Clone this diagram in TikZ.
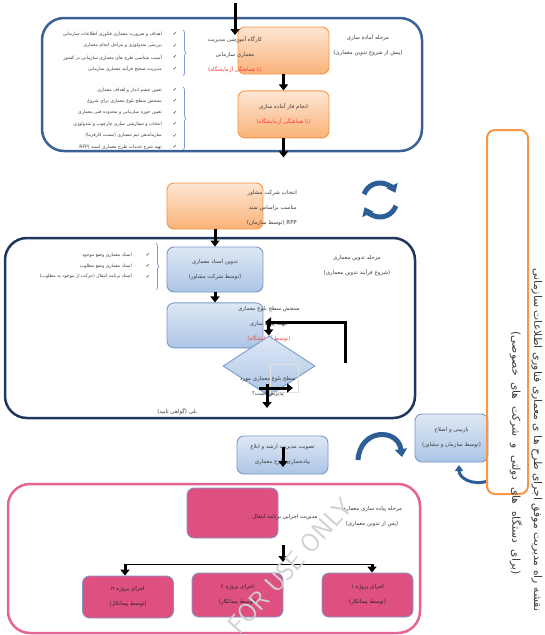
\documentclass[tikz,border=0pt]{standalone}
\usepackage{fontspec}
\usetikzlibrary{positioning,arrows.meta,shapes.geometric,decorations.pathreplacing}
\newfontfamily\fa[Script=Arabic]{DejaVu Sans}
\TeXXeTstate=1
\newcommand{\rl}[1]{\beginR #1\endR}
\newcommand{\redrl}[1]{\textcolor{labelred}{\beginR #1\endR}}

\definecolor{frameblue}{RGB}{58,96,150}
\definecolor{framenavy}{RGB}{31,56,96}
\definecolor{orangeline}{RGB}{247,150,70}
\definecolor{orangetop}{RGB}{253,230,212}
\definecolor{orangebot}{RGB}{250,178,120}
\definecolor{blueline}{RGB}{120,155,205}
\definecolor{bluetop}{RGB}{222,232,245}
\definecolor{bluebot}{RGB}{172,197,230}
\definecolor{pinkfill}{RGB}{222,80,128}
\definecolor{pinkframe}{RGB}{228,100,150}
\definecolor{labelred}{RGB}{255,60,60}
\definecolor{txtgray}{RGB}{60,60,60}
\definecolor{cyclblue}{RGB}{46,94,150}

\tikzset{
  orangebox/.style={draw=orangeline, line width=0.9pt, rounded corners=7pt,
    top color=orangetop, bottom color=orangebot,
    minimum width=91pt, minimum height=47pt, inner sep=0pt},
  bluebox/.style={draw=blueline, line width=0.9pt, rounded corners=7pt,
    top color=bluetop, bottom color=bluebot,
    minimum width=96pt, minimum height=45pt, inner sep=0pt},
  pinkbox/.style={draw=blueline, line width=0.8pt, fill=pinkfill, rounded corners=7pt,
    minimum width=91pt, minimum height=44pt, inner sep=0pt, text=black!85},
  fatxt/.style={font=\fa\fontsize{5.5}{15}\selectfont, text=txtgray, align=center, inner sep=0pt},
  itemtxt/.style={font=\fa\fontsize{4.6}{5}\selectfont, text=txtgray, anchor=east, inner sep=0pt},
  checkmk/.style={font=\fa\fontsize{5}{5}\selectfont, inner sep=0pt},
  sidetxt/.style={font=\fa\fontsize{10.8}{12}\selectfont, rotate=-90, text=txtgray, inner sep=0pt},
  grpbrace/.style={draw=blueline, line width=0.7pt, decorate, decoration={brace, amplitude=3pt}},
  bigarrow/.style={line width=3pt, -{Triangle[width=9pt,length=6pt]}},
  stageframe/.style={line width=2.5pt, rounded corners=22pt},
  cyclearrow/.style={draw=cyclblue, line width=5pt, -{Triangle[width=12pt,length=8pt]}},
}

\begin{document}
\begin{tikzpicture}[x=1pt, y=-1pt]
  \fill[white] (0,0) rectangle (545,635);
  \useasboundingbox (0,0) rectangle (545,635);

  %stage 1: preparation (before the architecture work)
  \draw[stageframe, draw=frameblue] (42,18) rectangle (422,151);
  \node[orangebox] (workshop) at (283.5,50.5) {};
  \node[fatxt] (workshoptxt) at (235,55) {\rl{کارگاه آموزشی مدیریت}\\\rl{معماری سازمانی}\\\redrl{(با هماهنگی آزمایشگاه)}};
  \node[orangebox, fatxt, below=16pt of workshop] (prepphase) {\rl{انجام فاز آماده سازی}\\\redrl{(با هماهنگی آزمایشگاه)}};
  \node[fatxt] (prepstage) at (368,45) {\rl{مرحله آماده سازی}\\\rl{(پیش از شروع تدوین معماری)}};
  \coordinate (entry) at (235,3);
  \coordinate (entryend) at (235,35);
  \draw[bigarrow] (entry) -- (entryend);
  \draw[bigarrow] (workshop) -- (prepphase);
  \coordinate[below=19pt of prepphase] (prepexit);
  \draw[bigarrow] (prepphase) -- (prepexit);

  %workshop topics
  \foreach \txt [count=\i] in {{اهداف و ضرورت معماری فناوری اطلاعات سازمانی},
      {بررسی متدولوژی و مراحل انجام معماری},
      {آسیب شناسی طرح های معماری سازمانی در کشور},
      {مدیریت صحیح فرآیند معماری سازمانی}}{
    \node[itemtxt] (aim-\i) at (162,22.3+11.7*\i) {\rl{\txt}};
    \node[checkmk] (aimchk-\i) at (175,22.3+11.7*\i) {✓};
  }
  \draw[grpbrace] (183,30) -- (183,76);
  %preparation tasks
  \foreach \txt [count=\i] in {{تعیین چشم انداز و اهداف معماری},
      {سنجش سطح بلوغ معماری برای شروع},
      {تعیین حوزه سازمانی و محدوده فنی معماری},
      {انتخاب و سفارشی سازی چارچوب و متدولوژی},
      {سازماندهی تیم معماری (سمت کارفرما)},
      {تهیه شرح خدمات طرح معماری (سند RFP)}}{
    \node[itemtxt] (task-\i) at (162,78.6+11.4*\i) {\rl{\txt}};
    \node[checkmk] (taskchk-\i) at (175,78.6+11.4*\i) {✓};
  }
  \draw[grpbrace] (183,87) -- (183,150);

  %choosing the consultant
  \node[orangebox, minimum width=96pt, minimum height=46pt] (consult) at (215,206) {};
  \node[fatxt, align=right, anchor=east] (consulttxt) at (297,208) {\rl{انتخاب شرکت مشاور}\\\rl{مناسب براساس سند}\\\rl{RFP (توسط سازمان)}};
  \draw[cyclearrow] (380,200) ++(200:17) arc (200:335:17);
  \draw[cyclearrow] (380,200) ++(20:17) arc (20:155:17);

  %stage 2: writing the architecture
  \draw[stageframe, draw=framenavy] (5,238) rectangle (415,418);
  \node[bluebox, fatxt] (docs) at (215,269.5) {\rl{تدوین اسناد معماری}\\\rl{(توسط شرکت مشاور)}};
  \draw[bigarrow] (consult) -- (docs);
  \node[bluebox, below=10pt of docs] (maturity) {};
  \draw[bigarrow] (docs) -- (maturity);
  \node[fatxt] (maturitytxt) at (269,324) {\rl{سنجش سطح بلوغ معماری}\\\rl{جهت پیاده سازی}\\\redrl{(توسط آزمایشگاه)}};
  \node[fatxt] (draftstage) at (357,266) {\rl{مرحله تدوین معماری}\\\rl{(شروع فرآیند تدوین معماری)}};
  \foreach \txt [count=\i] in {{اسناد معماری وضع موجود},
      {اسناد معماری وضع مطلوب},
      {اسناد برنامه انتقال (حرکت از موجود به مطلوب)}}{
    \node[itemtxt] (doc-\i) at (132,244.5+10.7*\i) {\rl{\txt}};
    \node[checkmk] (docchk-\i) at (148,244.5+10.7*\i) {✓};
  }
  \draw[grpbrace] (156,243) -- (156,290);

  %acceptance check
  \node[diamond, draw=blueline, line width=0.9pt, top color=bluetop, bottom color=bluebot,
    minimum width=92pt, minimum height=60pt, inner sep=0pt] (accept) at (269,366) {};
  \draw[black!12] (270,364) rectangle (298,392);
  \node[fatxt] (accepttxt) at (268,387) {\rl{سطح بلوغ معماری مورد}\\\rl{پذیرش است؟}};
  \coordinate (retry) at (345,363);
  \coordinate (retryend) at (265,322);
  \draw[bigarrow] (retry) |- (retryend);
  \coordinate (intoaccept) at (268,321);
  \draw[bigarrow] (intoaccept) -- (accept.north);
  \coordinate (yesstart) at (267,384);
  \coordinate (yesend) at (267,408);
  \draw[bigarrow] (yesstart) -- (yesend);
  \coordinate (nostart) at (259,388);
  \coordinate (noend) at (293,388);
  \draw[bigarrow] (nostart) -- (noend);
  \node[fatxt, anchor=east] (yeslbl) at (197,412) {\rl{بلی (گواهی تایید)}};

  %approval and review
  \node[bluebox, fatxt, minimum width=91pt, minimum height=38pt] (approve) at (282.5,455) {\rl{تصویب مدیریت ارشد و ابلاغ}\\\rl{پیاده‌سازی طرح معماری}};
  \coordinate (approvein) at (283,447);
  \coordinate (approveout) at (283,467);
  \draw[bigarrow] (approvein) -- (approveout);
  \node[bluebox, fatxt, minimum width=73pt, minimum height=48pt] (review) at (451.5,438) {\rl{بازبینی و اصلاح}\\\rl{(توسط سازمان و مشاور)}};
  \draw[cyclearrow] (358,460) .. controls (360,428) and (398,428) .. (402,457);
  \draw[draw=cyclblue, line width=3pt, -{Triangle[width=8pt,length=6pt]}] (488,481) .. controls (472,486) and (459,478) .. (459,465);

  %title frame on the right
  \draw[draw=orangeline, line width=2pt, rounded corners=8pt] (487,130) rectangle (528,494);
  \node[sidetxt] (roadmap) at (537,440) {\rl{نقشه راه مدیریت موفق اجرای طرح ها ی معماری فناوری اطلاعات سازمانی}};
  \node[sidetxt] (roadmapsub) at (516,453) {\spaceskip=6.5pt plus 1pt\rl{(برای دستگاه های دولتی و شرکت های خصوصی)}};

  %stage 3: implementation
  \draw[stageframe, draw=pinkframe] (8,484) rectangle (420,633);
  \node[pinkbox, minimum height=50pt] (transit) at (232.5,513) {};
  \node[fatxt, text=black!85] (transittxt) at (285,517) {\rl{مدیریت اجرایی برنامه انتقال}};
  \node[fatxt] (implstage) at (372,517) {\rl{مرحله پیاده سازی معماری}\\\rl{(پس از تدوین معماری)}};
  \coordinate (transitout) at (283,545);
  \coordinate (split) at (283,562);
  \draw[bigarrow] (transitout) -- (split);
  \node[pinkbox, fatxt, text=black!85, minimum height=42pt] (projn) at (128,597) {\rl{اجرای پروژه n}\\\rl{(توسط پیمانکار)}};
  \node[pinkbox, fatxt, text=black!85] (proj2) at (237.5,595) {\rl{اجرای پروژه ۲}\\\rl{(توسط پیمانکار)}};
  \node[pinkbox, fatxt, text=black!85] (proj1) at (367.5,595) {\rl{اجرای پروژه ۱}\\\rl{(توسط پیمانکار)}};
  \coordinate (splitL) at (125,564);
  \coordinate (splitR) at (372,564);
  \draw[line width=0.8pt] (splitL) -- (splitR);
  \draw[bigarrow] (splitL) -- (splitL |- projn.north);
  \draw[bigarrow] (splitR) -- (splitR |- proj1.north);

  %watermark
  \node[rotate=48, text=black!18, font=\sffamily\fontsize{26}{26}\selectfont] (wmark) at (290,566) {FOR USE ONLY};
\end{tikzpicture}
\end{document}
